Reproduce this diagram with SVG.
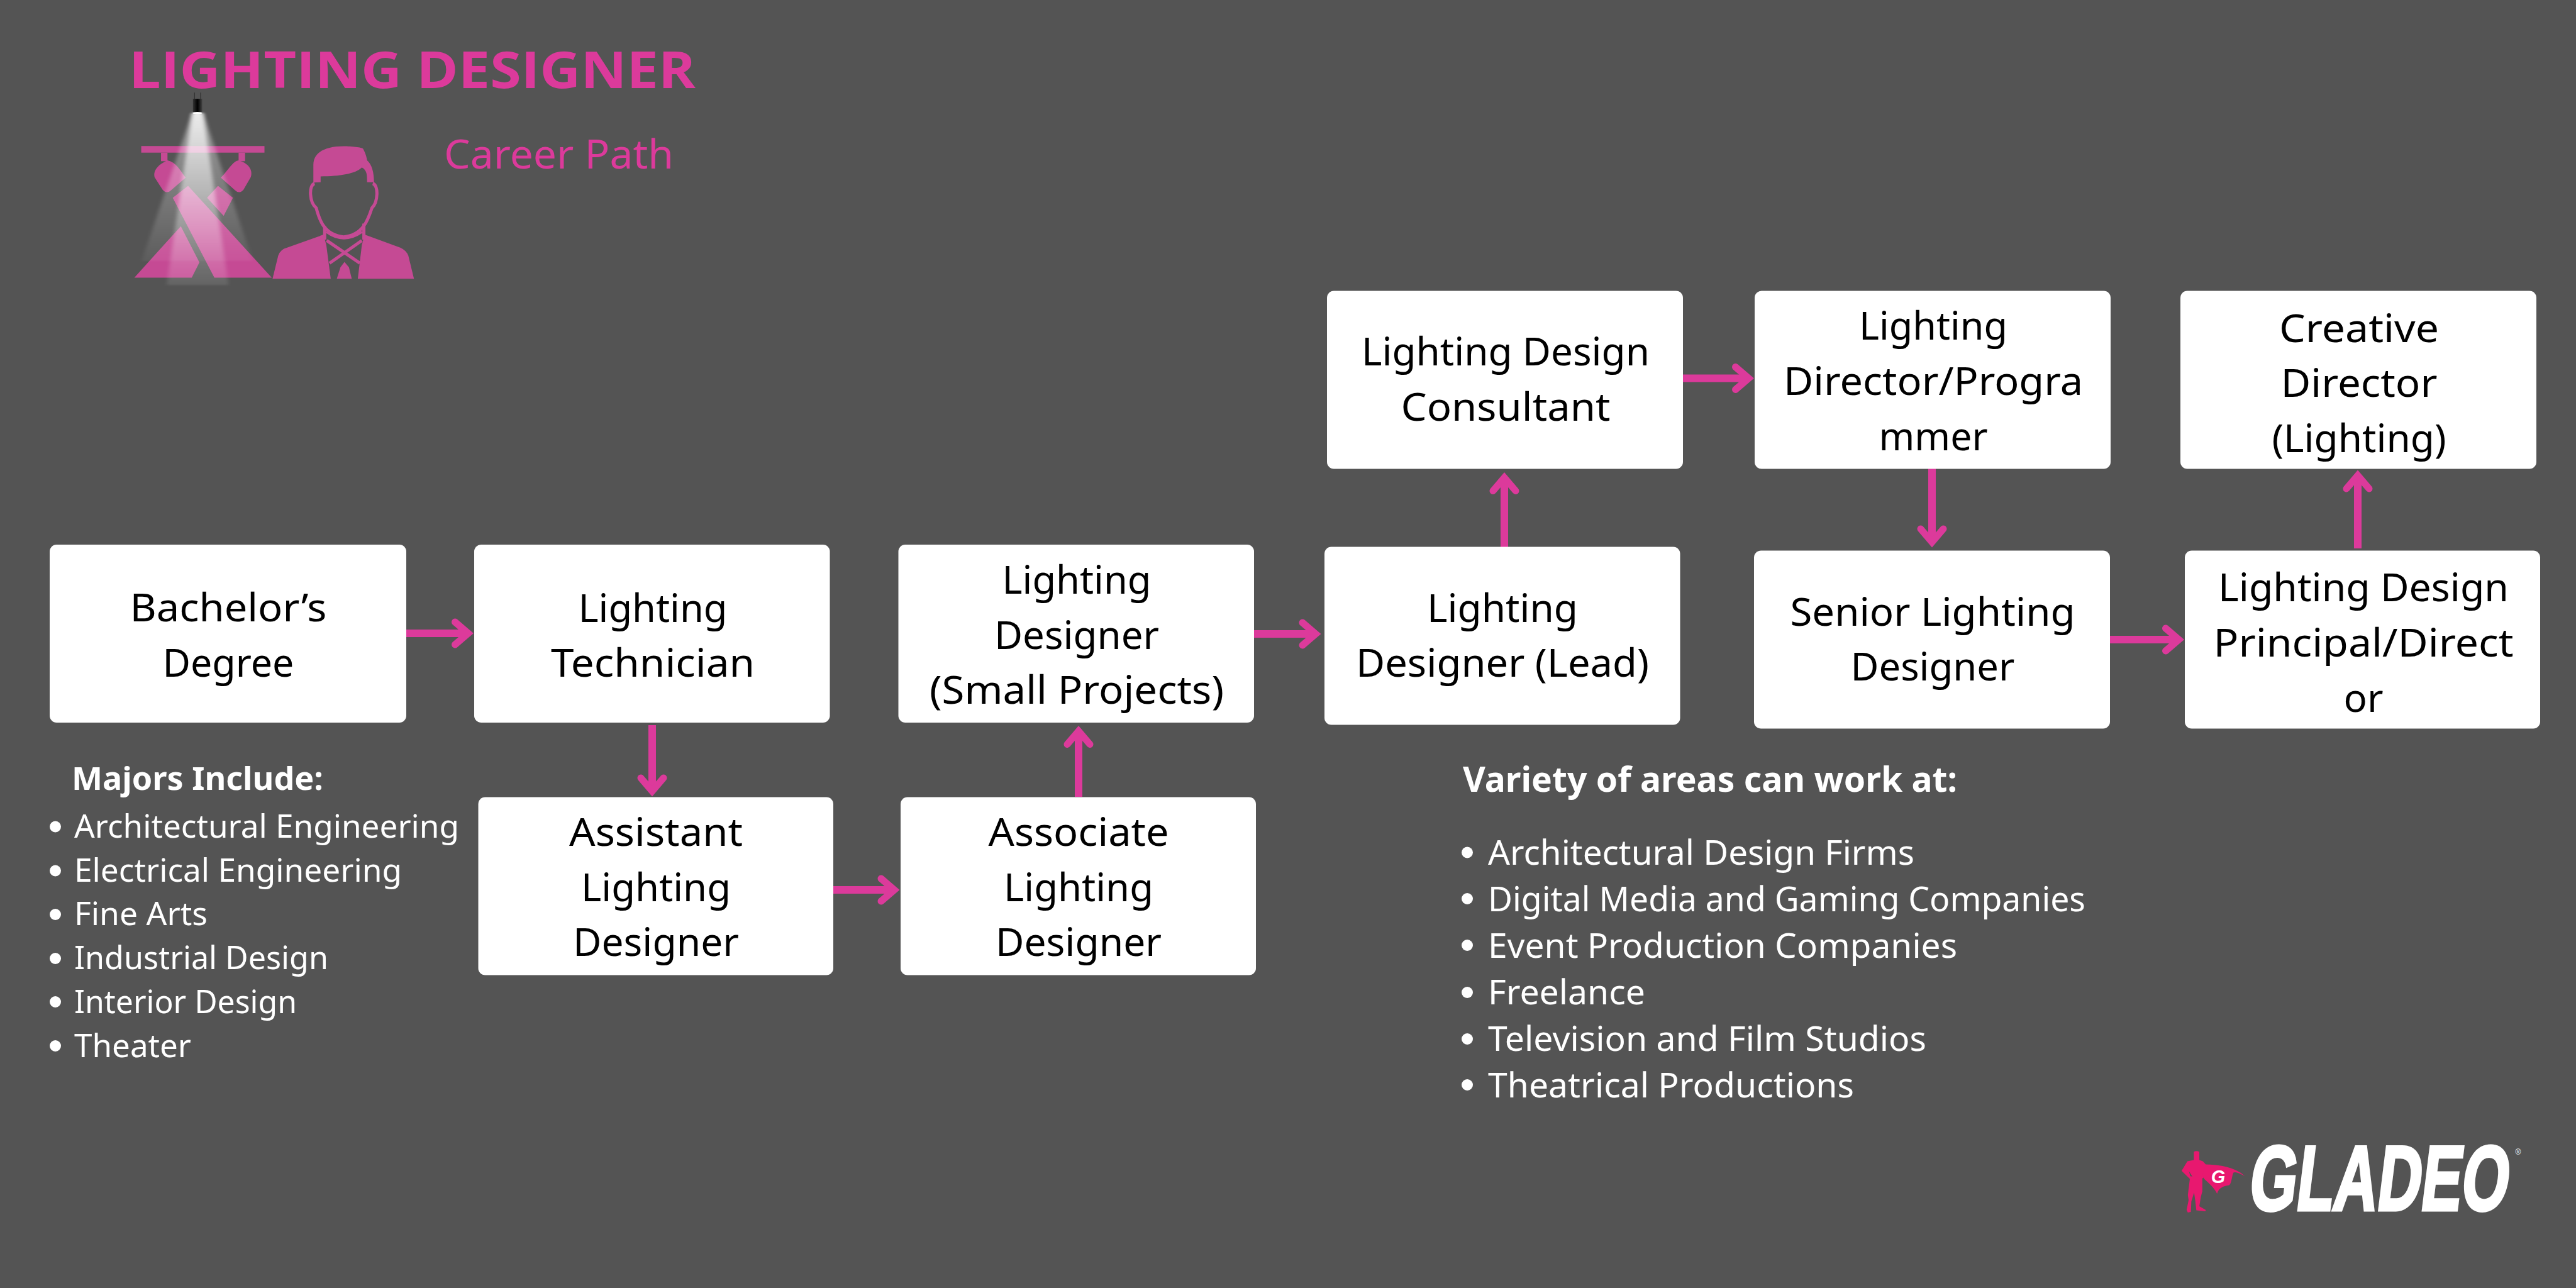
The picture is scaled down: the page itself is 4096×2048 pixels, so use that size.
<svg xmlns="http://www.w3.org/2000/svg" width="4096" height="2048" viewBox="0 0 4096 2048">
<style>
.box{fill:#fff}
.nt{font-family:"Noto Sans","Open Sans",sans-serif;font-size:62px;fill:#000;text-anchor:middle}
.li{font-family:"Noto Sans","Open Sans",sans-serif;font-size:51px;fill:#fff}
.lr{font-family:"Noto Sans","Open Sans",sans-serif;font-size:54px;fill:#fff}
.hd{font-family:"Noto Sans","Open Sans",sans-serif;font-weight:700;fill:#fff}
.ar{stroke:#dc3a9b;stroke-width:12;fill:none;marker-end:url(#h)}
.ic{fill:#c54a94}
.ln{fill:none;stroke:#c54a94;stroke-width:5;vector-effect:non-scaling-stroke}
</style>
<defs>
<marker id="h" markerUnits="userSpaceOnUse" markerWidth="60" markerHeight="60" refX="40" refY="30" orient="auto" viewBox="0 0 60 60" overflow="visible"><path d="M19,12 L40,30 L19,48" fill="none" stroke="#dc3a9b" stroke-width="11" stroke-linecap="round" stroke-linejoin="miter" stroke-miterlimit="4"/></marker>
<linearGradient id="bm" x1="0" y1="0" x2="0" y2="1"><stop offset="0" stop-color="#fff" stop-opacity=".98"/><stop offset=".35" stop-color="#fff" stop-opacity=".65"/><stop offset="1" stop-color="#fff" stop-opacity=".12"/></linearGradient>
<linearGradient id="lm" x1="0" y1="0" x2="1" y2="0"><stop offset="0" stop-color="#333"/><stop offset=".5" stop-color="#000"/><stop offset="1" stop-color="#444"/></linearGradient>
<filter id="bl" x="-30%" y="-10%" width="160%" height="120%"><feGaussianBlur stdDeviation="5 6"/></filter>
</defs>
<rect width="4096" height="2048" fill="#545454"/>
<g id="title">
<text x="205" y="139.5" font-family="'Open Sans','Noto Sans',sans-serif" font-weight="700" font-size="81" fill="#dc3a9b" textLength="901" lengthAdjust="spacingAndGlyphs">LIGHTING DESIGNER</text>
<text x="706" y="268" font-family="'Noto Sans','Open Sans',sans-serif" font-size="64" fill="#dc3a9b" textLength="365" lengthAdjust="spacingAndGlyphs">Career Path</text>
</g>
<g id="icon-light" transform="matrix(0.6425 0 0 0.2834 148.1 29.6)">
<rect class="ic" x="119" y="715" width="305" height="37"/>
<rect class="ic" x="168" y="752" width="16" height="48"/>
<rect class="ic" x="360" y="752" width="16" height="48"/>
<path class="ic" d="M184,795C150,830 150,870 152,890L172,960Q182,985 192,965L229,892C215,850 205,805 184,795Z"/>
<path class="ic" d="M360,795C345,800 335,850 316,892L352,965Q362,985 372,960L390,890C395,860 390,815 360,795Z"/>
<polygon class="ic" points="235,938 442,1453 300,1453 197,1005"/>
<polygon class="ic" points="309,938 346,1005 323,1107 282,1005"/>
<polygon class="ic" points="217,1165 263,1368 244,1453 102,1453"/>
<polygon points="245,530 272,530 395,1360 120,1360" fill="url(#bm)" opacity=".45" filter="url(#bl)"/>
<polygon points="245,530 272,530 335,1495 182,1495" fill="url(#bm)" opacity=".8" filter="url(#bl)"/>
<path d="M251,415V450M266,415V450" stroke="#333" stroke-width="2" fill="none"/>
<rect x="247" y="450" width="23" height="75" fill="url(#lm)"/>
<ellipse cx="258" cy="530" rx="12" ry="6" fill="#fff"/>
</g>
<g id="icon-person" transform="matrix(0.6425 0 0 0.2834 148.1 29.6)">
<path class="ic" d="M545,920L545,820C545,750 575,716 620,716C640,716 665,722 668,730C675,760 677,780 678,795C690,820 695,860 695,918L678,918C678,880 678,850 665,835C650,870 610,885 563,885L563,918Z"/>
<path class="ln" d="M548,925C533,935 535,1030 552,1062C560,1130 572,1215 620,1225C668,1215 680,1130 690,1062C705,1030 707,935 692,925"/>
<path class="ln" d="M573,1165V1240M670,1150V1240M578,1195Q620,1265 665,1195"/>
<path class="ln" d="M578,1245L660,1372M665,1245L585,1372"/>
<path class="ic" d="M444,1460L458,1330Q463,1295 480,1285L570,1212L577,1270L588,1460Z"/>
<path class="ic" d="M794,1460L780,1330Q775,1300 760,1285L672,1212L665,1270L655,1460Z"/>
<polygon class="ic" points="612,1395 622,1365 633,1395 640,1460 603,1460"/>
</g>
<g id="connectors">
<path class="ar" d="M646,1007H744.5"/>
<path class="ar" d="M1037,1153V1258"/>
<path class="ar" d="M1325,1415H1422"/>
<path class="ar" d="M1715,1267V1162.5"/>
<path class="ar" d="M1994,1008H2092"/>
<path class="ar" d="M2392,870V759.5"/>
<path class="ar" d="M2676,601.5H2780.5"/>
<path class="ar" d="M3072,745V862"/>
<path class="ar" d="M3355,1017H3464.5"/>
<path class="ar" d="M3749,872V756"/>
</g>
<g id="n-bachelor"><rect class="box" x="79" y="866" width="567" height="283" rx="11"/>
<text class="nt" x="363" y="988" textLength="313" lengthAdjust="spacingAndGlyphs">Bachelor’s</text><text class="nt" x="363" y="1075.5" textLength="209" lengthAdjust="spacingAndGlyphs">Degree</text></g>
<g id="n-technician"><rect class="box" x="754" y="866" width="565.5" height="283" rx="11"/>
<text class="nt" x="1038" y="988.5" textLength="237" lengthAdjust="spacingAndGlyphs">Lighting</text><text class="nt" x="1038" y="1075.5" textLength="324" lengthAdjust="spacingAndGlyphs">Technician</text></g>
<g id="n-small"><rect class="box" x="1428.5" y="866" width="565.5" height="283" rx="11"/>
<text class="nt" x="1712" y="943.5" textLength="237" lengthAdjust="spacingAndGlyphs">Lighting</text><text class="nt" x="1712" y="1031.5" textLength="262" lengthAdjust="spacingAndGlyphs">Designer</text><text class="nt" x="1712" y="1118.5" textLength="468" lengthAdjust="spacingAndGlyphs">(Small Projects)</text></g>
<g id="n-lead"><rect class="box" x="2106" y="869.5" width="565.5" height="283" rx="11"/>
<text class="nt" x="2389" y="988.5" textLength="240" lengthAdjust="spacingAndGlyphs">Lighting</text><text class="nt" x="2389" y="1076" textLength="466" lengthAdjust="spacingAndGlyphs">Designer (Lead)</text></g>
<g id="n-consultant"><rect class="box" x="2110" y="462.5" width="566" height="283" rx="11"/>
<text class="nt" x="2394" y="581" textLength="458" lengthAdjust="spacingAndGlyphs">Lighting Design</text><text class="nt" x="2394" y="669" textLength="333" lengthAdjust="spacingAndGlyphs">Consultant</text></g>
<g id="n-director"><rect class="box" x="2790" y="462.5" width="566" height="283" rx="11"/>
<text class="nt" x="3074" y="539.5" textLength="236" lengthAdjust="spacingAndGlyphs">Lighting</text><text class="nt" x="3074" y="628" textLength="476" lengthAdjust="spacingAndGlyphs">Director/Progra</text><text class="nt" x="3074" y="715.5" textLength="173" lengthAdjust="spacingAndGlyphs">mmer</text></g>
<g id="n-senior"><rect class="box" x="2789" y="875.5" width="566" height="283" rx="11"/>
<text class="nt" x="3073" y="994.5" textLength="453" lengthAdjust="spacingAndGlyphs">Senior Lighting</text><text class="nt" x="3073" y="1082" textLength="261" lengthAdjust="spacingAndGlyphs">Designer</text></g>
<g id="n-principal"><rect class="box" x="3474" y="875.5" width="565" height="283" rx="11"/>
<text class="nt" x="3758" y="956" textLength="462" lengthAdjust="spacingAndGlyphs">Lighting Design</text><text class="nt" x="3758" y="1044" textLength="477" lengthAdjust="spacingAndGlyphs">Principal/Direct</text><text class="nt" x="3758" y="1131.5" textLength="63" lengthAdjust="spacingAndGlyphs">or</text></g>
<g id="n-creative"><rect class="box" x="3467" y="462.5" width="566" height="283" rx="11"/>
<text class="nt" x="3751" y="543.5" textLength="254" lengthAdjust="spacingAndGlyphs">Creative</text><text class="nt" x="3751" y="631" textLength="249" lengthAdjust="spacingAndGlyphs">Director</text><text class="nt" x="3751" y="718.5" textLength="277" lengthAdjust="spacingAndGlyphs">(Lighting)</text></g>
<g id="n-assistant"><rect class="box" x="760.5" y="1267.5" width="564.5" height="283" rx="11"/>
<text class="nt" x="1043" y="1344.5" textLength="276" lengthAdjust="spacingAndGlyphs">Assistant</text><text class="nt" x="1043" y="1433" textLength="238" lengthAdjust="spacingAndGlyphs">Lighting</text><text class="nt" x="1043" y="1520" textLength="264" lengthAdjust="spacingAndGlyphs">Designer</text></g>
<g id="n-associate"><rect class="box" x="1432" y="1267.5" width="565" height="283" rx="11"/>
<text class="nt" x="1715" y="1344.5" textLength="287" lengthAdjust="spacingAndGlyphs">Associate</text><text class="nt" x="1715" y="1433" textLength="238" lengthAdjust="spacingAndGlyphs">Lighting</text><text class="nt" x="1715" y="1520" textLength="264" lengthAdjust="spacingAndGlyphs">Designer</text></g>
<g id="majors">
<text class="hd" font-size="51" x="114" y="1255.5" textLength="400" lengthAdjust="spacingAndGlyphs">Majors Include:</text>
<g fill="#fff"><circle cx="88" cy="1314.5" r="9"/><circle cx="88" cy="1384.5" r="9"/><circle cx="88" cy="1454" r="9"/><circle cx="88" cy="1524" r="9"/><circle cx="88" cy="1593" r="9"/><circle cx="88" cy="1663" r="9"/></g>
<text class="li" x="118" y="1331.5" textLength="612" lengthAdjust="spacingAndGlyphs">Architectural Engineering</text>
<text class="li" x="118" y="1402" textLength="521" lengthAdjust="spacingAndGlyphs">Electrical Engineering</text>
<text class="li" x="118" y="1471" textLength="212" lengthAdjust="spacingAndGlyphs">Fine Arts</text>
<text class="li" x="118" y="1541" textLength="404" lengthAdjust="spacingAndGlyphs">Industrial Design</text>
<text class="li" x="118" y="1611" textLength="354" lengthAdjust="spacingAndGlyphs">Interior Design</text>
<text class="li" x="118" y="1680.5" textLength="186" lengthAdjust="spacingAndGlyphs">Theater</text>
</g>
<g id="areas">
<text class="hd" font-size="55" x="2326" y="1258.5" textLength="786" lengthAdjust="spacingAndGlyphs">Variety of areas can work at:</text>
<g fill="#fff"><circle cx="2333" cy="1355.5" r="9"/><circle cx="2333" cy="1429" r="9"/><circle cx="2333" cy="1503" r="9"/><circle cx="2333" cy="1578" r="9"/><circle cx="2333" cy="1652" r="9"/><circle cx="2333" cy="1725" r="9"/></g>
<text class="lr" x="2366" y="1374.5" textLength="678" lengthAdjust="spacingAndGlyphs">Architectural Design Firms</text>
<text class="lr" x="2366" y="1448.5" textLength="950" lengthAdjust="spacingAndGlyphs">Digital Media and Gaming Companies</text>
<text class="lr" x="2366" y="1522.5" textLength="746" lengthAdjust="spacingAndGlyphs">Event Production Companies</text>
<text class="lr" x="2366" y="1597" textLength="250" lengthAdjust="spacingAndGlyphs">Freelance</text>
<text class="lr" x="2366" y="1671" textLength="697" lengthAdjust="spacingAndGlyphs">Television and Film Studios</text>
<text class="lr" x="2366" y="1745" textLength="582" lengthAdjust="spacingAndGlyphs">Theatrical Productions</text>
</g>
<g id="logo">
<g transform="matrix(0.3968 0 0 0.19753 3407.4 1771.9)">
<path fill="#e8186f" d="M204,302Q214,288 226,302L226,368L240,378L252,403L250,500L238,515L238,620L232,665L226,740L252,770L250,780L214,772L210,700L205,630L194,700L192,785L180,790L175,770L183,690L180,650L188,520L155,455L178,378L204,368Z"/>
<path fill="#e8186f" d="M252,403C310,405 370,425 408,498C385,470 370,460 362,470C355,510 355,560 345,570C320,580 305,590 297,638C285,590 262,550 245,520L240,480Z"/>
<polygon fill="#545454" points="184,456 198,500 190,498"/>
</g>
<text x="3527" y="1881" font-family="'Liberation Sans',sans-serif" font-weight="700" font-style="italic" font-size="29" fill="#fff" text-anchor="middle">G</text>
<text transform="translate(3573 1924) skewX(-7) scale(.66 1)" font-family="'Liberation Sans',sans-serif" font-weight="700" font-size="146" fill="#fff" stroke="#fff" stroke-width="5">GLADEO</text>
<text x="4004" y="1836" font-family="'Liberation Sans',sans-serif" font-size="12" fill="#fff" text-anchor="middle">®</text>
</g>
</svg>
